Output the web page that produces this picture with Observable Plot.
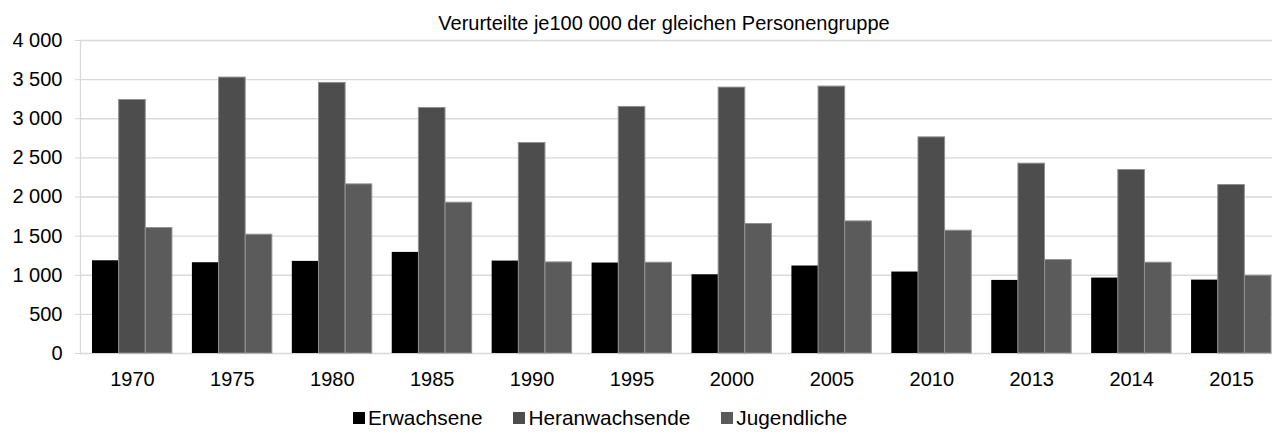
<!DOCTYPE html>
<html>
<head>
<meta charset="utf-8">
<script src="https://cdn.jsdelivr.net/npm/d3@7"></script>
<script src="https://cdn.jsdelivr.net/npm/@observablehq/plot@0.6"></script>
<style>
  body { margin: 0; background: #fff; font-family: "Liberation Sans", Arial, sans-serif; }
  #wrap { position: relative; width: 1278px; height: 432px; overflow: hidden; background: #fff; }
  #title { position: absolute; left: 0; top: 12px; width: 1328px; text-align: center; font-size: 20px; line-height: 22px; color: #000; z-index: 2; }
  #chart { position: absolute; left: 0; top: 30px; z-index: 1; }
  #legend { position: absolute; left: 353px; top: 408px; display: flex; align-items: center; font-size: 20.8px; line-height: 20px; color: #000; }
  .item { display: flex; align-items: center; margin-right: 31px; }
  .sw { width: 12px; height: 12px; margin-right: 3px; }
</style>
</head>
<body>
<div id="wrap">
  <div id="title">Verurteilte je100 000 der gleichen Personengruppe</div>
  <div id="chart"></div>
  <div id="legend"></div>
</div>
<script>
const years = ["1970", "1975", "1980", "1985", "1990", "1995", "2000", "2005", "2010", "2013", "2014", "2015"];
const series = ["Erwachsene", "Heranwachsende", "Jugendliche"];
const erwachsene = [1185, 1160, 1177, 1292, 1181, 1156, 1006, 1118, 1041, 934, 964, 938];
const heranwachsende = [3240, 3526, 3458, 3138, 2690, 3151, 3398, 3411, 2762, 2426, 2345, 2153];
const jugendliche = [1603, 1518, 2161, 1927, 1164, 1160, 1655, 1688, 1569, 1194, 1160, 994];
const yTicks = [0, 500, 1000, 1500, 2000, 2500, 3000, 3500, 4000];
const colors = ["#000000", "#4d4d4d", "#5b5b5b"];

const valuesBySeries = [erwachsene, heranwachsende, jugendliche];
const table = [];
series.forEach((s, i) => {
  years.forEach((y, j) => table.push({ year: y, series: s, idx: i, value: valuesBySeries[i][j] }));
});

const fmt = d => d3.format(",")(d).replace(/,/g, " ");
const bandW = 80;
const sub = bandW / 3;

const barMarks = series.map((s, i) =>
  Plot.barY(table.filter(d => d.series === s), {
    x: "year",
    y: "value",
    fill: colors[i],
    stroke: i === 0 ? "none" : "#8f8f8f",
    strokeWidth: 1,
    insetLeft: i * sub,
    insetRight: (2 - i) * sub
  })
);

const chart = Plot.plot({
  width: 1278,
  height: 372,
  marginLeft: 80,
  marginRight: 6,
  marginTop: 10,
  marginBottom: 49,
  style: { fontFamily: "'Liberation Sans', Arial, sans-serif", fontSize: "20px", color: "#000", background: "transparent" },
  x: { type: "band", domain: years, range: [80, 1283], paddingInner: 0.2, paddingOuter: 0.12, round: false, label: null },
  y: { domain: [0, 4000], label: null },
  marks: [
    Plot.ruleY(yTicks, { stroke: "#d9d9d9", strokeWidth: 1.3 }),
    Plot.frame({ anchor: "left", stroke: "#d9d9d9", strokeWidth: 1.3 }),
    Plot.axisY({ ticks: yTicks, tickFormat: fmt, tickSize: 5, tickPadding: 13, stroke: "#d9d9d9", fill: "#000", fontSize: 20, label: null }),
    Plot.axisX({ tickSize: 0, tickPadding: 18, fontSize: 20, fill: "#000", label: null }),
    ...barMarks
  ]
});
document.getElementById("chart").appendChild(chart);

const legend = document.getElementById("legend");
series.forEach((s, i) => {
  const it = document.createElement("div");
  it.className = "item";
  const sw = document.createElement("div");
  sw.className = "sw";
  sw.style.background = colors[i];
  const tx = document.createElement("span");
  tx.textContent = s;
  it.appendChild(sw);
  it.appendChild(tx);
  legend.appendChild(it);
});
</script>
</body>
</html>
